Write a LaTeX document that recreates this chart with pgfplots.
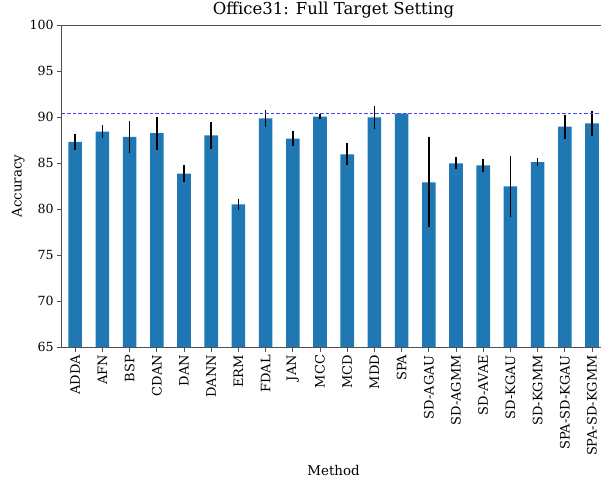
\documentclass[border=0pt]{standalone}
\usepackage{pgfplots}
\pgfplotsset{compat=1.18}
\usepackage{fontspec}
\setmainfont{DejaVu Serif}
\definecolor{barblue}{HTML}{1F77B4}
\definecolor{refline}{RGB}{70,70,250}
\definecolor{spine}{RGB}{80,80,80}

\pgfplotstableread{
x  acc    err
0  87.30  0.90
1  88.40  0.70
2  87.85  1.75
3  88.25  1.80
4  83.85  0.95
5  88.00  1.50
6  80.50  0.60
7  89.85  0.90
8  87.65  0.85
9  90.05  0.25
10 85.95  1.20
11 89.95  1.25
12 90.38  0.00
13 82.90  4.90
14 84.95  0.65
15 84.75  0.70
16 82.45  3.30
17 85.10  0.40
18 88.95  1.30
19 89.30  1.40
}\results

\begin{document}
\begin{tikzpicture}
\begin{axis}[
    at={(0,0)}, anchor=south west,
    scale only axis,
    width=544pt, height=322pt,
    xmin=-0.5, xmax=19.5,
    ymin=65, ymax=100,
    axis y line*=left,
    axis x line=box,
    axis line style={spine, line width=0.8pt},
    xtick={0,...,19},
    xticklabels={ADDA,AFN,BSP,CDAN,DAN,DANN,ERM,FDAL,JAN,MCC,MCD,MDD,SPA,SD-AGAU,SD-AGMM,SD-AVAE,SD-KGAU,SD-KGMM,SPA-SD-KGAU,SPA-SD-KGMM},
    xtick pos=bottom,
    ytick={65,70,...,100},
    tick align=outside,
    major tick length=4.5pt,
    tick style={spine, line width=0.8pt},
    x tick label style={rotate=90, anchor=east, font=\fontsize{13}{15}\selectfont},
    y tick label style={font=\fontsize{12.6}{15}\selectfont},
    /pgf/number format/assume math mode=true,
    xlabel={Method},
    ylabel={Accuracy},
    label style={font=\fontsize{13.4}{15}\selectfont},
    xlabel style={yshift=-2pt},
    title={Office31: Full Target Setting},
    title style={font=\fontsize{16.5}{19}\selectfont, yshift=-3pt},
    ylabel style={yshift=-2pt},
]
\addplot[ybar, bar width=0.5, fill=barblue, draw=none,
    error bars/.cd, y dir=both, y explicit,
    error mark=none,
    error bar style={black, line width=1.5pt}]
    table[x=x, y=acc, y error=err] {\results};
\addplot[refline, line width=1.3pt, dash pattern=on 3.5pt off 2pt]
    coordinates {(-0.5,90.38) (19.5,90.38)};
\end{axis}
\pgfresetboundingbox
\path[use as bounding box] (-61.6pt,-133pt) rectangle (539.4pt,347pt);
\end{tikzpicture}
\end{document}
